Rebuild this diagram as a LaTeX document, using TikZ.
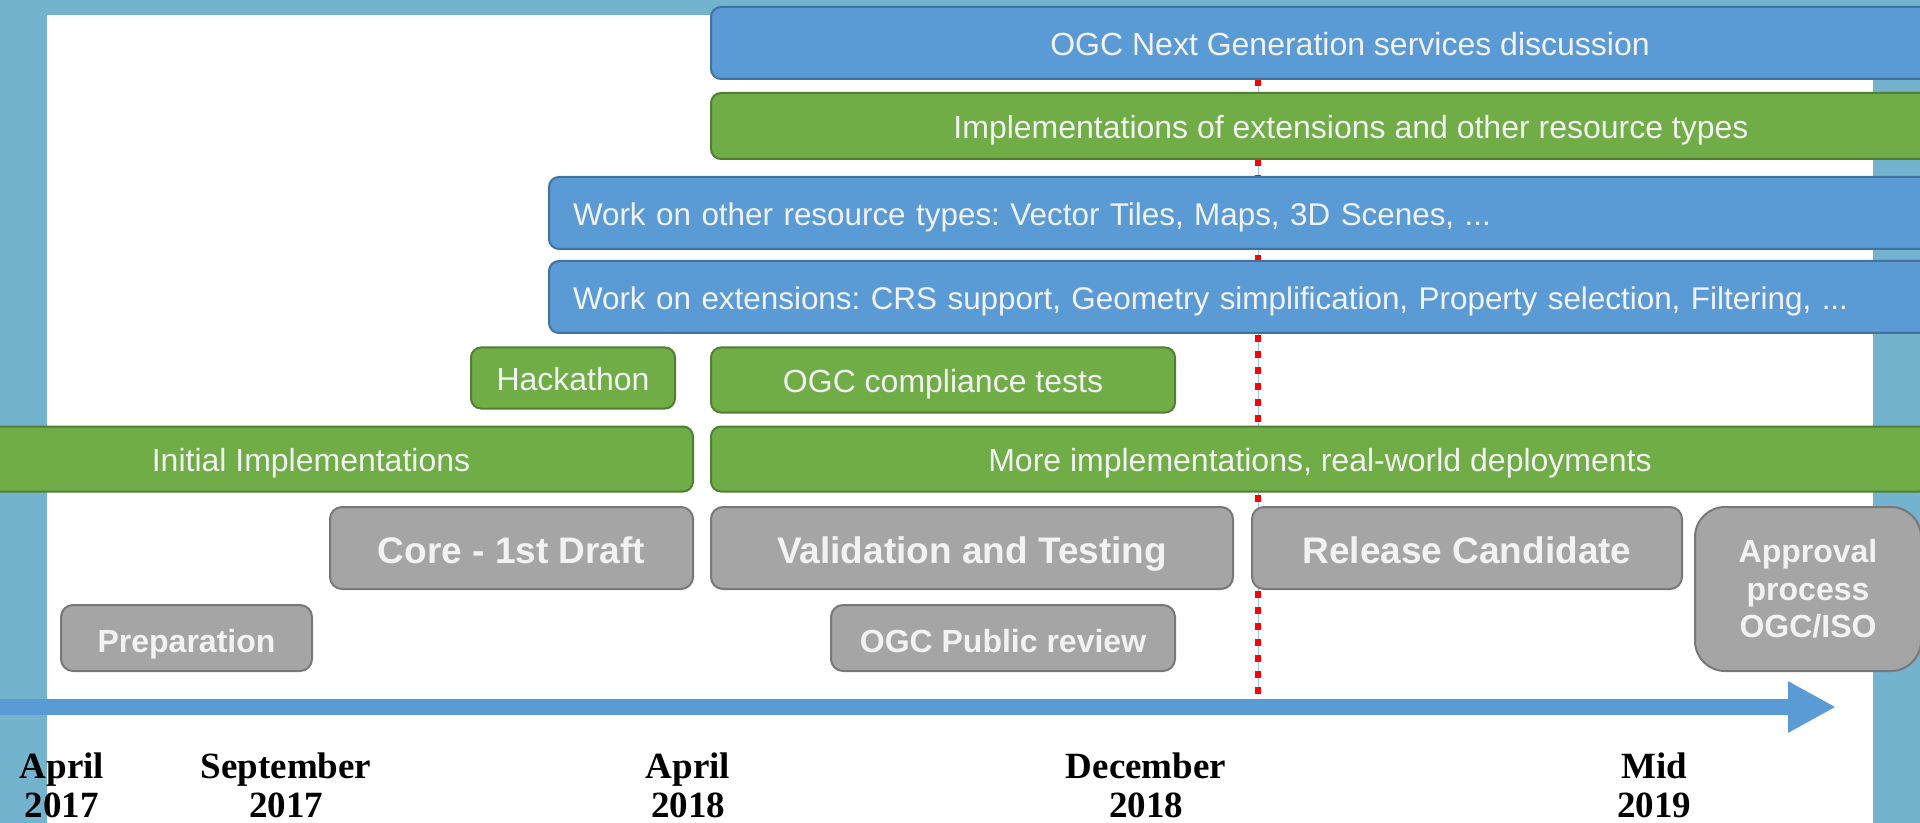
\documentclass[tikz,border=0pt]{standalone}
\usepackage{fontspec}
\setmainfont{Liberation Sans}
\newfontfamily\datefont{Liberation Serif}
\usetikzlibrary{positioning, arrows.meta}
\frenchspacing

\definecolor{frameteal}{HTML}{73B3CD}
\definecolor{barblue}{HTML}{5B9BD5}
\definecolor{barblueline}{HTML}{41719C}
\definecolor{bargreen}{HTML}{70AD47}
\definecolor{bargreenline}{HTML}{507E32}
\definecolor{boxgray}{HTML}{A5A5A5}
\definecolor{boxgrayline}{HTML}{787878}
\definecolor{barwhite}{HTML}{F2F2F2}

\begin{document}
\begin{tikzpicture}[x=0.5pt, y=-0.5pt,
		bar/.style = {draw, line width=1pt, rounded corners=5pt,
			text=barwhite, inner sep=0pt, text height=12.5pt, text depth=0pt,
			font=\fontsize{16}{19}\selectfont},
		bluebar/.style = {bar, fill=barblue, draw=barblueline},
		greenbar/.style = {bar, fill=bargreen, draw=bargreenline},
		graybox/.style = {bar, fill=boxgray, draw=boxgrayline, text height=14pt,
			rounded corners=6pt, font=\bfseries\fontsize{16}{18.75}\selectfont},
		bigbox/.style = {graybox, text height=15pt,
			font=\bfseries\fontsize{18.5}{22}\selectfont},
		leftbar/.style = {anchor=west, minimum width=706pt, text width=682pt,
			align=left, inner xsep=12pt, minimum height=36pt,
			font=\fontsize{15.7}{19}\selectfont},
		datelbl/.style = {anchor=north, align=center, inner sep=0pt,
			font=\datefont\bfseries\fontsize{18.5}{19.5}\selectfont}
                    ]
		\useasboundingbox (0,0) rectangle (1920,823);
		\clip (0,0) rectangle (1920,823);
		\fill[frameteal] (0,0) rectangle (1920,823);
		\fill[white] (47,15) rectangle (1873,830);

		% deadline marker
		\coordinate (dectop) at (1258,79);
		\coordinate (decbot) at (1258,695);
		\draw[barblue!60, line width=0.5pt] (dectop) -- (decbot);
		\draw[red, line width=3pt, dash pattern=on 3.5pt off 4.5pt] (dectop) -- (decbot);

		\node(ngs) [bluebar, minimum width=639pt, minimum height=36pt] at (1350,43)
			{OGC Next Generation services discussion};
		\node(impl) [greenbar, minimum width=640pt, minimum height=33pt] at (1351,126)
			{Implementations of extensions and other resource types};
		\node(other) [bluebar, leftbar] at (548,213)
			{Work on other resource types: Vector Tiles, Maps, 3D Scenes, ...};
		\node(ext) [bluebar, leftbar] at (548,297)
			{Work on extensions: CRS support, Geometry simplification, Property selection, Filtering, ...};
		\node(hack) [greenbar, minimum width=102pt, minimum height=30.5pt] at (573,378) {Hackathon};
		\node(compl) [greenbar, minimum width=232pt, minimum height=32.5pt] at (943,380)
			{OGC compliance tests};
		\node(initimpl) [greenbar, minimum width=382pt, minimum height=32.5pt] at (311,459)
			{Initial Implementations};
		\node(moreimpl) [greenbar, minimum width=609pt, minimum height=32.5pt] at (1320,459)
			{More implementations, real-world deployments};

		\node(core) [bigbox, minimum width=181.5pt, minimum height=41pt] at (511.5,548)
			{Core - 1st Draft};
		\node(valid) [bigbox, minimum width=261pt, minimum height=41pt] at (972,548)
			{Validation and Testing};
		\node(rc) [bigbox, minimum width=215pt, minimum height=41pt] at (1467,548)
			{Release Candidate};
		\node(approval) [graybox, rounded corners=15pt, align=center,
			text height=, text depth=,
			minimum width=113pt, minimum height=82pt] at (1808,589)
			{Approval\\process\\OGC/ISO};
		\node(prep) [graybox, minimum width=125.5pt, minimum height=33pt] at (186.5,638)
			{Preparation};
		\node(review) [graybox, minimum width=172pt, minimum height=33pt] at (1003,638)
			{OGC Public review};

		% time axis
		\coordinate (tstart) at (-10,707);
		\coordinate (tend) at (1836,707);
		\draw[barblue, line width=8pt, -{Triangle[length=24pt, width=24pt]}] (tstart) -- (tend);

		\node(apr17) [datelbl] at (62,752) {April\\2017};
		\node(sep17) [datelbl] at (286,752) {September\\2017};
		\node(apr18) [datelbl] at (688,752) {April\\2018};
		\node(dec18) [datelbl] at (1146,752) {December\\2018};
		\node(mid19) [datelbl] at (1654,752) {Mid\\2019};
	\end{tikzpicture}
\end{document}
